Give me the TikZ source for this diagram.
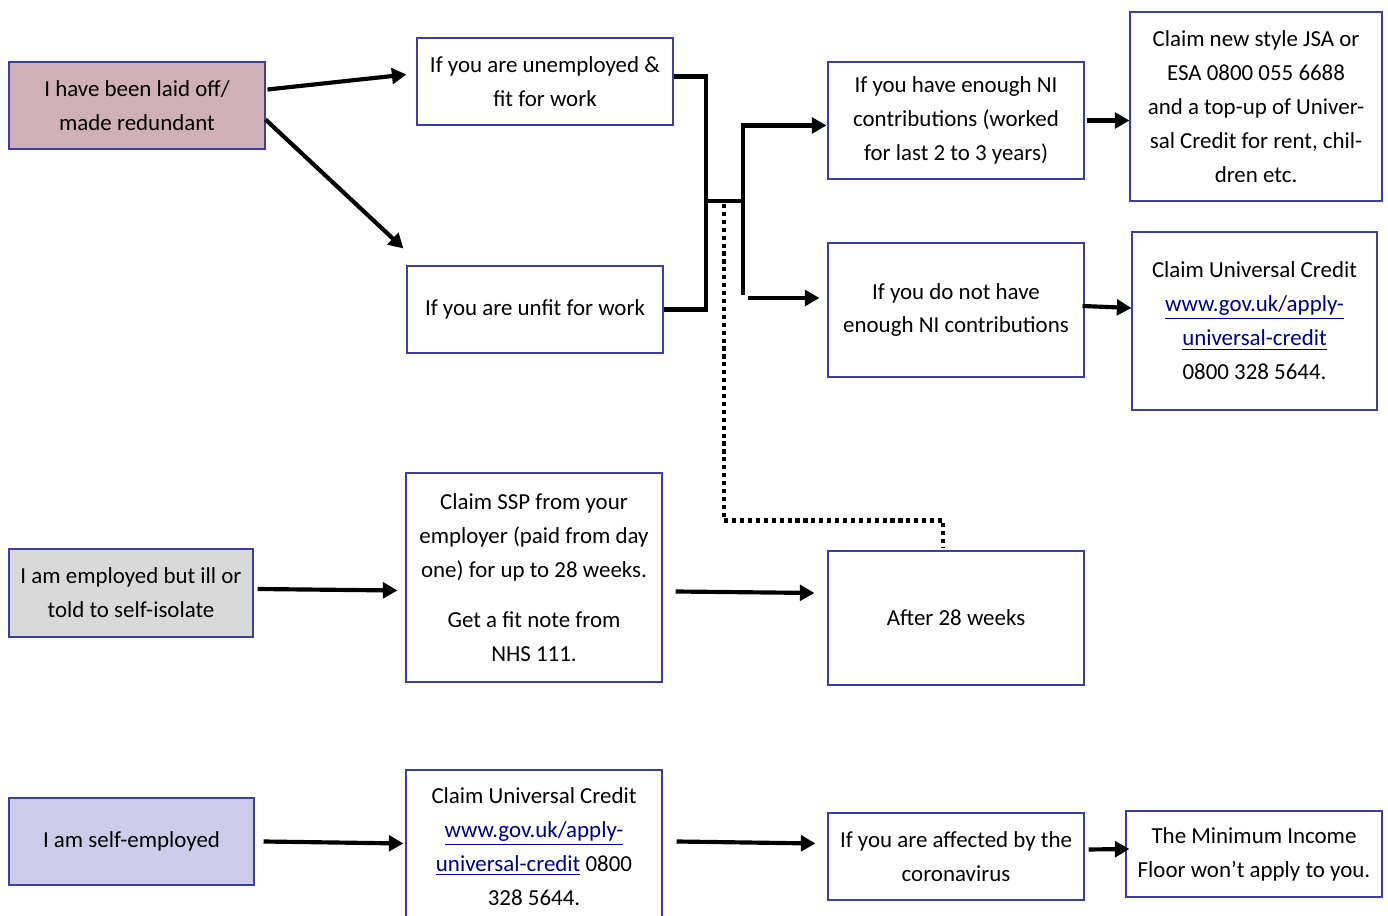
\documentclass[tikz,border=0pt]{standalone}
\usepackage{fontspec}
\setmainfont{Carlito}
\usetikzlibrary{arrows.meta,calc,positioning}
\definecolor{boxblue}{RGB}{62,62,160}
\definecolor{linkblue}{RGB}{0,0,128}
\definecolor{laidpink}{RGB}{207,175,184}
\definecolor{illgray}{RGB}{217,217,217}
\definecolor{selflav}{RGB}{204,204,234}
\newcommand\weblink[1]{\textcolor{linkblue}{\underline{#1}}}

\begin{document}
\begin{tikzpicture}[x=0.48pt,y=-0.48pt,
    every node/.append style={font=\fontsize{11}{16.3}\selectfont},
    box/.style={draw=boxblue, line width=0.5pt, align=center, inner sep=0pt},
    sz/.style 2 args={minimum width=#1*0.48pt, minimum height=#2*0.48pt},
    arr/.style={line width=2pt, -{Triangle[length=7pt,width=7.5pt]}},
    conn/.style={line width=2pt},
    dots/.style={line width=2pt, dash pattern=on 2pt off 1.8pt}]
    \useasboundingbox (0,0) rectangle (1388,916);
    \clip (0,0) rectangle (1388,916);

    \node[box, sz={256}{87}, fill=laidpink] (laid) at (137,105.5) {I have been laid off/\\made redundant};
    \node[box, sz={256}{87}] (unemp) at (545,81.5) {If you are unemployed \&\\fit for work};
    \node[box, sz={256}{87}] (unfit) at (535,309.5) {If you are unfit for work};
    \node[box, sz={256}{117}] (ni) at (956,120.5) {If you have enough NI\\contributions (worked\\for last 2 to 3 years)};
    \node[box, sz={256}{134}] (noni) at (956,310) {If you do not have\\enough NI contributions};
    \node[box, sz={252}{189}] (jsa) at (1256,106.5) {Claim new style JSA or\\ESA 0800 055 6688\\and a top-up of Univer-\\sal Credit for rent, chil-\\dren etc.};
    \node[box, sz={245}{178}] (ucr) at (1254.5,321) {Claim Universal Credit\\\weblink{www.gov.uk/apply-}\\\weblink{universal-credit}\\0800 328 5644.};

    \node[box, sz={244}{88}, fill=illgray] (ill) at (131,593) {I am employed but ill or\\told to self-isolate};
    \node[box, sz={256}{209}] (ssp) at (534,577.5) {Claim SSP from your\\employer (paid from day\\one) for up to 28 weeks.\\[7.7pt]Get a fit note from\\NHS 111.};
    \node[box, sz={256}{134}] (after) at (956,618) {After 28 weeks};

    \node[box, sz={245}{87}, fill=selflav] (self) at (131.5,841.5) {I am self-employed};
    \node[box, sz={256}{153}] (ucb) at (534,846.5) {Claim Universal Credit\\\weblink{www.gov.uk/apply-}\\\weblink{universal-credit} 0800\\328 5644.};
    \node[box, sz={256}{87}] (aff) at (956,856.5) {If you are affected by the\\coronavirus};
    \node[box, sz={256}{86}] (mif) at (1254,854) {The Minimum Income\\Floor won’t apply to you.};

    \coordinate (brk) at (706,201);
    \coordinate (fork) at (743,201);
    \coordinate (forkdown) at (743,295);

    \draw[arr] ($(laid.east)+(2,-16)$) -- ($(unemp.west)+(-10,-7)$);
    \draw[arr] ($(laid.east)+(0,14)$) -- ($(unfit.north west)+(-3,-17)$);
    \draw[conn] ($(unemp.east)+(0,-5)$) -| (brk) |- (unfit.east);
    \draw[conn] (brk) -- (fork);
    \draw[arr] (forkdown) |- ($(ni.west)+(-1,5)$);
    \draw[arr] ($(forkdown)+(5,3)$) -- ($(noni.west)+(-8,-12)$);
    \draw[dots] ($(brk)+(18,3)$) |- ($(after.north)+(-13,-30)$) -- ($(after.north)+(-13,-3)$);
    \draw[arr] ($(ni.east)+(2,0)$) -- (jsa.west |- ni.east);
    \draw[arr] ($(noni.east)+(-2,-4)$) -- ($(ucr.west)+(0,-13)$);
    \draw[arr] ($(ill.east)+(4,-4)$) -- ($(ssp.west)+(-8,13)$);
    \draw[arr] ($(ssp.east)+(13,14)$) -- ($(after.west)+(-13,-25)$);
    \draw[arr] ($(self.east)+(9,0)$) -- ($(ucb.west)+(-2,-3)$);
    \draw[arr] ($(ucb.east)+(14,-5)$) -- ($(aff.west)+(-12,-13)$);
    \draw[arr] ($(aff.east)+(4,-7)$) -- ($(mif.west)+(4,-5)$);
\end{tikzpicture}
\end{document}
